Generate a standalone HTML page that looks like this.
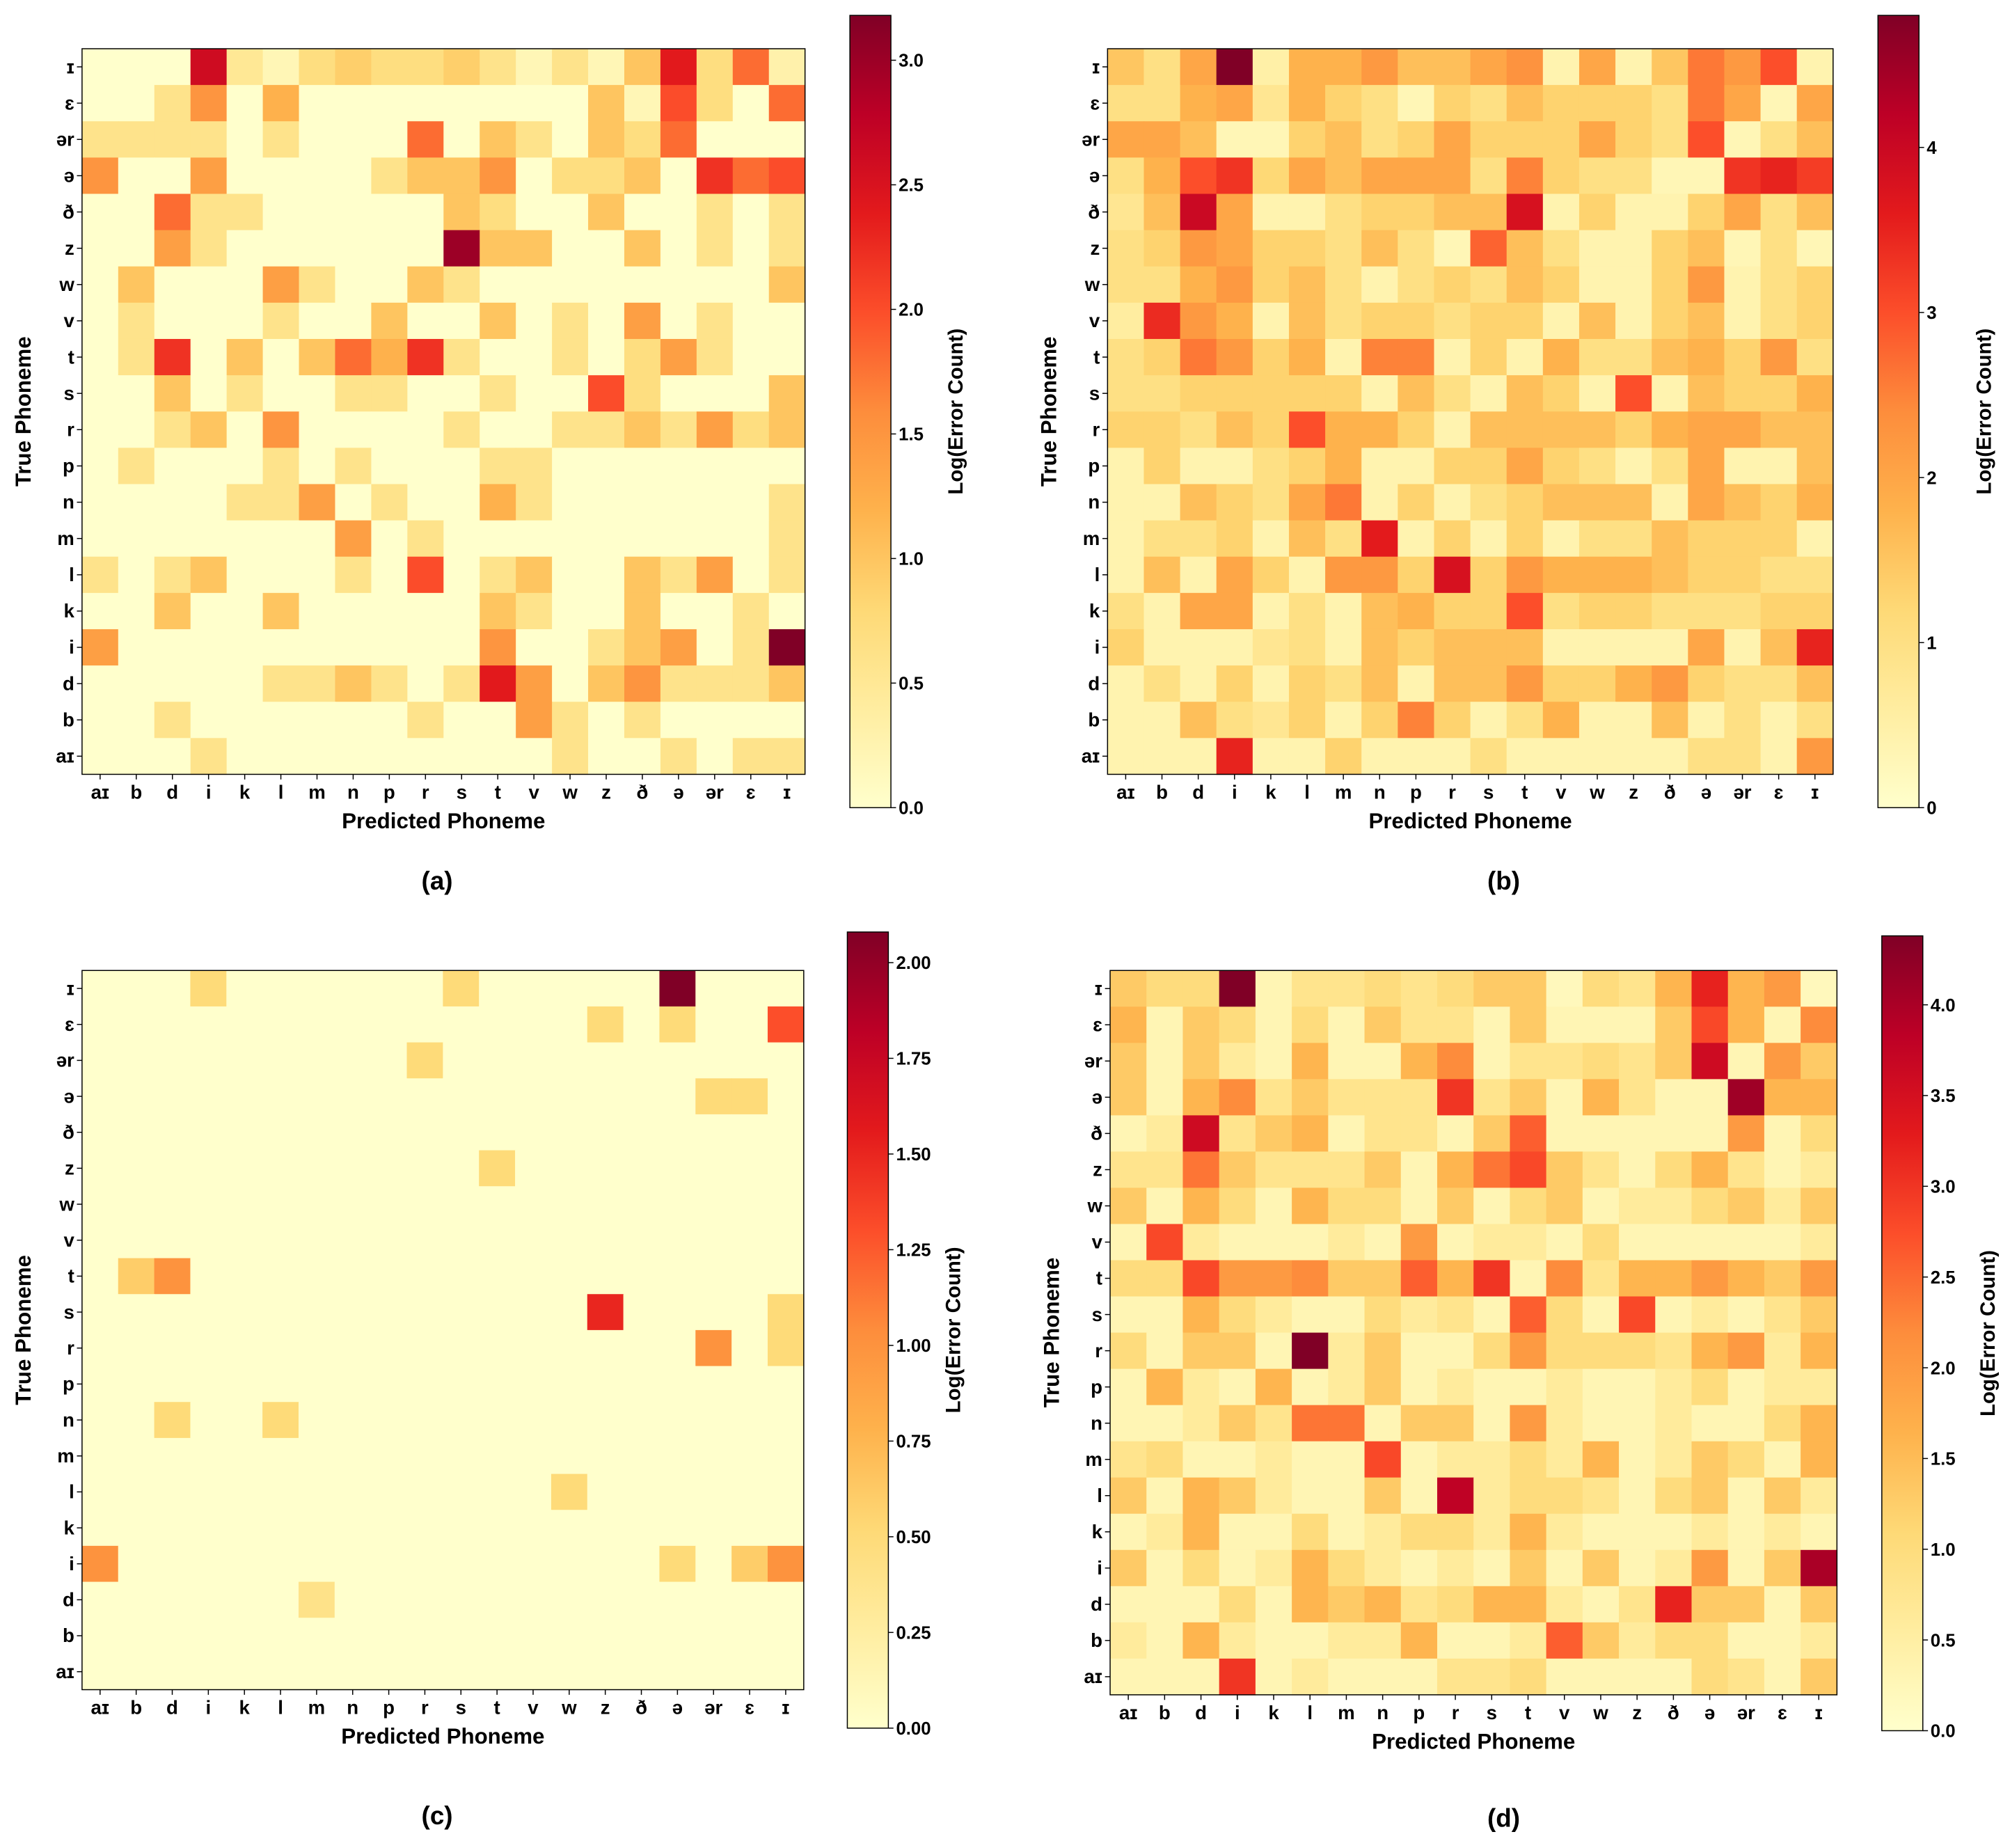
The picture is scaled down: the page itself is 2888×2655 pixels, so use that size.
<!DOCTYPE html>
<html><head><meta charset="utf-8"><style>
html,body{margin:0;padding:0;background:#fff}
svg{display:block;font-family:"Liberation Sans","DejaVu Sans",sans-serif;font-weight:bold}
</style></head><body>
<svg id="fig" width="2888" height="2655" viewBox="0 0 1568 1441.5" xmlns="http://www.w3.org/2000/svg">
<defs><linearGradient id="ylorrd" x1="0" y1="1" x2="0" y2="0">
<stop offset="0" stop-color="#ffffcc"/><stop offset="0.125" stop-color="#ffeda0"/><stop offset="0.25" stop-color="#fed976"/><stop offset="0.375" stop-color="#feb24c"/><stop offset="0.5" stop-color="#fd8d3c"/><stop offset="0.625" stop-color="#fc4e2a"/><stop offset="0.75" stop-color="#e31a1c"/><stop offset="0.875" stop-color="#bd0026"/><stop offset="1" stop-color="#800026"/></linearGradient></defs>
</svg>
<script>
const categories = ["aɪ","b","d","i","k","l","m","n","p","r","s","t","v","w","z","ð","ə","ər","ɛ","ɪ"];
const rowLabels = ["ɪ","ɛ","ər","ə","ð","z","w","v","t","s","r","p","n","m","l","k","i","d","b","aɪ"];
const valuesA = [
[0,0,0,2.6,0.5,0.2,0.7,0.9,0.7,0.7,0.9,0.6,0.2,0.6,0.2,1.0,2.4,0.7,1.8,0.3],
[0,0,0.6,1.5,0,1.2,0,0,0,0,0,0,0,0,1.0,0.2,2.0,0.7,0,1.8],
[0.6,0.6,0.6,0.6,0,0.6,0,0,0,1.8,0,1.0,0.6,0,1.0,0.7,1.8,0,0,0],
[1.5,0,0,1.4,0,0,0,0,0.6,1.0,1.0,1.5,0,0.7,0.7,1.0,0,2.2,1.8,2.0],
[0,0,1.8,0.6,0.6,0,0,0,0,0,1.0,0.7,0,0,1.0,0,0,0.6,0,0.6],
[0,0,1.4,0.6,0,0,0,0,0,0,3.0,1.0,1.0,0,0,1.0,0,0.6,0,0.6],
[0,1.0,0,0,0,1.4,0.6,0,0,1.0,0.6,0,0,0,0,0,0,0,0,1.0],
[0,0.6,0,0,0,0.6,0,0,1.0,0,0,1.0,0,0.6,0,1.4,0,0.6,0,0],
[0,0.6,2.2,0,1.0,0,1.0,1.8,1.2,2.2,0.6,0,0,0.6,0,0.7,1.4,0.6,0,0],
[0,0,1.0,0,0.6,0,0,0.6,0.6,0,0,0.6,0,0,2.0,0.7,0,0,0,1.0],
[0,0,0.6,1.0,0,1.5,0,0,0,0,0.6,0,0,0.6,0.6,1.0,0.6,1.4,0.7,1.0],
[0,0.6,0,0,0,0.6,0,0.6,0,0,0,0.6,0.6,0,0,0,0,0,0,0],
[0,0,0,0,0.6,0.6,1.4,0,0.6,0,0,1.2,0.6,0,0,0,0,0,0,0.6],
[0,0,0,0,0,0,0,1.4,0,0.6,0,0,0,0,0,0,0,0,0,0.6],
[0.6,0,0.6,1.0,0,0,0,0.6,0,2.0,0,0.6,1.0,0,0,1.0,0.6,1.4,0,0.6],
[0,0,1.0,0,0,1.0,0,0,0,0,0,1.0,0.6,0,0,1.0,0,0,0.6,0],
[1.4,0,0,0,0,0,0,0,0,0,0,1.5,0,0,0.6,1.0,1.4,0,0.6,3.2],
[0,0,0,0,0,0.6,0.6,1.0,0.6,0,0.6,2.4,1.4,0,1.0,1.5,0.6,0.6,0.6,1.0],
[0,0,0.6,0,0,0,0,0,0,0.6,0,0,1.4,0.6,0,0.6,0,0,0,0],
[0,0,0,0.6,0,0,0,0,0,0,0,0,0,0.6,0,0,0.6,0,0.6,0.6]];
const valuesB = [
[1.5,1.0,2.0,4.8,0.5,1.8,1.8,2.2,1.6,1.6,2.0,2.3,0.4,2.0,0.4,1.5,2.6,2.2,3.0,0.4],
[1.0,1.0,1.8,2.0,0.8,1.8,1.3,1.0,0.3,1.3,1.0,1.6,1.3,1.3,1.3,1.0,2.6,2.0,0.3,2.0],
[2.0,2.0,1.6,0.3,0.3,1.3,1.6,1.0,1.3,2.0,1.3,1.3,1.3,2.0,1.3,1.0,3.0,0.3,1.0,1.6],
[1.0,1.8,3.0,3.3,1.2,2.0,1.6,2.0,2.0,2.0,1.0,2.5,1.3,1.0,1.0,0.3,0.3,3.3,3.5,3.2],
[0.8,1.6,4.0,2.0,0.4,0.4,1.0,1.3,1.3,1.6,1.6,3.8,0.4,1.3,0.4,0.4,1.3,2.0,1.0,1.6],
[1.0,1.3,2.2,2.0,1.3,1.3,1.0,1.6,1.0,0.3,2.8,1.6,1.0,0.4,0.4,1.3,1.6,0.3,1.0,0.3],
[1.0,1.0,1.8,2.2,1.3,1.6,1.0,0.4,1.0,1.3,1.0,1.6,1.3,0.4,0.4,1.3,2.2,0.4,1.0,1.3],
[0.6,3.4,2.2,1.8,0.4,1.6,1.0,1.3,1.3,1.0,1.3,1.3,0.4,1.6,0.4,1.3,1.6,0.4,1.0,1.3],
[1.0,1.3,2.6,2.2,1.3,1.8,0.4,2.5,2.5,0.4,1.3,0.4,1.8,1.0,1.0,1.6,1.8,1.3,2.2,1.0],
[1.0,1.0,1.3,1.3,1.3,1.3,1.3,0.4,1.6,1.0,0.4,1.6,1.3,0.4,3.0,0.4,1.6,1.3,1.3,1.8],
[1.3,1.3,1.0,1.6,1.3,3.0,1.8,1.8,1.3,0.4,1.6,1.6,1.6,1.6,1.3,1.8,2.0,2.0,1.6,1.6],
[0.4,1.3,0.4,0.4,1.0,1.3,1.8,0.4,0.4,1.3,1.3,2.0,1.3,1.0,0.4,1.0,2.0,0.4,0.4,1.6],
[0.4,0.4,1.6,1.3,1.0,2.0,2.6,0.4,1.3,0.4,1.0,1.3,1.6,1.6,1.6,0.4,2.0,1.6,1.3,1.8],
[0.4,1.0,1.0,1.3,0.4,1.6,1.0,3.6,0.4,1.3,0.4,1.3,0.4,1.0,1.0,1.6,1.3,1.3,1.3,0.4],
[0.4,1.6,0.4,2.0,1.3,0.4,2.2,2.2,1.3,3.8,1.3,2.2,1.8,1.8,1.8,1.6,1.3,1.3,1.0,1.0],
[1.0,0.4,2.0,2.0,0.4,1.0,0.4,1.6,1.8,1.3,1.3,3.0,1.0,1.3,1.3,1.0,1.0,1.0,1.3,1.3],
[1.3,0.4,0.4,0.4,0.8,1.0,0.4,1.6,1.3,1.6,1.6,1.6,0.4,0.4,0.4,0.4,2.0,0.4,1.6,3.5],
[0.4,1.0,0.4,1.3,0.4,1.3,1.0,1.6,0.4,1.6,1.6,2.2,1.3,1.3,1.8,2.2,1.3,1.0,1.0,1.6],
[0.4,0.4,1.6,1.0,0.8,1.3,0.4,1.3,2.5,1.3,0.4,1.0,1.8,0.4,0.4,1.6,0.4,1.0,0.4,1.0],
[0.4,0.4,0.4,3.5,0.4,0.4,1.3,0.4,0.4,0.4,1.0,0.4,0.4,0.4,0.4,0.4,1.0,1.0,0.4,2.2]];
const valuesC = [
[0,0,0,0.5,0,0,0,0,0,0,0.5,0,0,0,0,0,2.08,0,0,0],
[0,0,0,0,0,0,0,0,0,0,0,0,0,0,0.5,0,0.5,0,0,1.3],
[0,0,0,0,0,0,0,0,0,0.5,0,0,0,0,0,0,0,0,0,0],
[0,0,0,0,0,0,0,0,0,0,0,0,0,0,0,0,0,0.5,0.5,0],
[0,0,0,0,0,0,0,0,0,0,0,0,0,0,0,0,0,0,0,0],
[0,0,0,0,0,0,0,0,0,0,0,0.5,0,0,0,0,0,0,0,0],
[0,0,0,0,0,0,0,0,0,0,0,0,0,0,0,0,0,0,0,0],
[0,0,0,0,0,0,0,0,0,0,0,0,0,0,0,0,0,0,0,0],
[0,0.6,1.0,0,0,0,0,0,0,0,0,0,0,0,0,0,0,0,0,0],
[0,0,0,0,0,0,0,0,0,0,0,0,0,0,1.5,0,0,0,0,0.5],
[0,0,0,0,0,0,0,0,0,0,0,0,0,0,0,0,0,1.0,0,0.5],
[0,0,0,0,0,0,0,0,0,0,0,0,0,0,0,0,0,0,0,0],
[0,0,0.5,0,0,0.5,0,0,0,0,0,0,0,0,0,0,0,0,0,0],
[0,0,0,0,0,0,0,0,0,0,0,0,0,0,0,0,0,0,0,0],
[0,0,0,0,0,0,0,0,0,0,0,0,0,0.5,0,0,0,0,0,0],
[0,0,0,0,0,0,0,0,0,0,0,0,0,0,0,0,0,0,0,0],
[1.0,0,0,0,0,0,0,0,0,0,0,0,0,0,0,0,0.5,0,0.6,1.0],
[0,0,0,0,0,0,0.4,0,0,0,0,0,0,0,0,0,0,0,0,0],
[0,0,0,0,0,0,0,0,0,0,0,0,0,0,0,0,0,0,0,0],
[0,0,0,0,0,0,0,0,0,0,0,0,0,0,0,0,0,0,0,0]];
const valuesD = [
[1.3,1.0,1.0,4.38,0.3,0.8,0.8,1.0,0.8,1.0,1.3,1.3,0.2,1.0,0.8,1.6,3.2,1.6,2.0,0.2],
[1.6,0.3,1.3,1.0,0.3,1.0,0.3,1.3,0.8,0.8,0.3,1.3,0.3,0.3,0.3,1.3,2.8,1.6,0.3,2.2],
[1.3,0.3,1.3,0.6,0.3,1.6,0.3,0.3,1.6,2.2,0.3,0.8,0.8,1.0,0.8,1.3,3.6,0.3,2.0,1.3],
[1.3,0.3,1.6,2.2,0.8,1.3,0.8,0.8,0.8,3.0,0.8,1.3,0.3,1.6,0.8,0.3,0.3,4.1,1.6,1.6],
[0.3,0.6,3.6,0.8,1.3,1.6,0.3,0.8,0.8,0.3,1.3,2.6,0.3,0.3,0.3,0.3,0.3,2.0,0.3,1.0],
[0.8,0.8,2.4,1.3,0.8,0.8,0.8,1.3,0.3,1.6,2.4,2.8,1.3,0.8,0.3,1.0,1.6,0.8,0.3,0.6],
[1.3,0.3,1.6,1.0,0.3,1.6,1.0,1.0,0.3,1.3,0.3,1.0,1.3,0.3,0.6,0.6,1.0,1.3,0.6,1.3],
[0.3,2.8,0.6,0.3,0.3,0.3,0.6,0.3,2.0,0.3,0.6,0.6,0.3,1.0,0.3,0.3,0.3,0.3,0.3,0.6],
[1.0,1.0,2.8,2.0,2.0,2.2,1.3,1.3,2.6,1.6,3.0,0.3,2.2,0.8,1.6,1.6,2.0,1.6,1.3,2.0],
[0.3,0.3,1.6,1.0,0.6,0.3,0.3,1.0,0.6,0.8,0.3,2.6,1.0,0.3,2.8,0.3,0.6,0.3,0.8,1.3],
[1.0,0.3,1.3,1.3,0.3,4.38,0.6,1.3,0.3,0.3,1.0,2.0,1.0,1.0,1.0,0.8,1.6,2.0,0.6,1.6],
[0.3,1.6,0.6,0.3,1.6,0.3,0.6,1.3,0.3,0.6,0.3,0.3,0.6,0.3,0.3,0.6,1.0,0.3,0.6,0.6],
[0.3,0.3,0.6,1.3,0.8,2.4,2.4,0.3,1.3,1.3,0.3,2.0,0.6,0.3,0.3,0.6,0.3,0.3,1.0,1.6],
[0.8,1.0,0.3,0.3,0.6,0.3,0.3,2.8,0.3,0.6,0.6,1.0,0.6,1.6,0.3,0.6,1.3,1.0,0.3,1.6],
[1.3,0.3,1.6,1.3,0.6,0.3,0.3,1.3,0.3,3.8,0.6,1.0,1.0,0.8,0.3,1.0,1.3,0.3,1.3,0.6],
[0.3,0.6,1.6,0.3,0.3,1.0,0.3,0.6,1.0,1.0,0.6,1.6,0.6,0.3,0.3,0.3,0.6,0.3,0.6,0.3],
[1.3,0.3,1.0,0.3,0.6,1.6,1.0,0.6,0.3,0.6,0.3,1.3,0.3,1.3,0.3,0.6,2.0,0.3,1.3,4.0],
[0.3,0.3,0.3,1.0,0.3,1.6,1.3,1.6,0.8,1.0,1.6,1.6,0.6,0.3,0.8,3.2,1.3,1.3,0.3,1.3],
[0.6,0.3,1.6,0.6,0.3,0.3,0.6,0.6,1.6,0.3,0.3,0.6,2.6,1.3,0.6,1.0,1.0,0.3,0.3,0.6],
[0.3,0.3,0.3,3.0,0.3,0.6,0.3,0.3,0.3,0.8,0.8,1.0,0.3,0.3,0.3,0.3,1.0,0.8,0.3,1.3]];
const ticksA = [0,0.5,1.0,1.5,2.0,2.5,3.0];
const ticksB = [0,1,2,3,4];
const ticksC = [0,0.25,0.5,0.75,1.0,1.25,1.5,1.75,2.0];
const ticksD = [0,0.5,1.0,1.5,2.0,2.5,3.0,3.5,4.0];

const stops=["#ffffcc","#ffeda0","#fed976","#feb24c","#fd8d3c","#fc4e2a","#e31a1c","#bd0026","#800026"];
function hex(h){return [1,3,5].map(i=>parseInt(h.substr(i,2),16));}
function cmap(t){t=Math.max(0,Math.min(1,t));const p=t*8,i=Math.min(7,Math.floor(p)),f=p-i;const a=hex(stops[i]),b=hex(stops[i+1]);return "rgb("+a.map((v,k)=>Math.round(v+(b[k]-v)*f)).join(",")+")";}
const svg=document.getElementById('fig');const NS="http://www.w3.org/2000/svg";
function mk(tag,attrs,parent){const e=document.createElementNS(NS,tag);for(const k in attrs)e.setAttribute(k,attrs[k]);(parent||svg).appendChild(e);return e;}
function txt(s,attrs,parent){const e=mk('text',attrs,parent);e.textContent=s;return e;}

const panels=[
 {id:'a',vals:valuesA,x0:64,x1:628,y0:38,y1:604,cx:663,cy0:12,cy1:630,vmax:3.18,ticks:ticksA,dec:1,lab:[341,694]},
 {id:'b',vals:valuesB,x0:864,x1:1430,y0:38,y1:604,cx:1465,cy0:12,cy1:630,vmax:4.8,ticks:ticksB,dec:0,lab:[1173,694]},
 {id:'c',vals:valuesC,x0:64,x1:627,y0:757,y1:1318,cx:661,cy0:727,cy1:1348,vmax:2.08,ticks:ticksC,dec:2,lab:[341,1423]},
 {id:'d',vals:valuesD,x0:866,x1:1433,y0:757,y1:1322,cx:1468,cy0:730,cy1:1350,vmax:4.38,ticks:ticksD,dec:1,lab:[1173,1425]}];

panels.forEach(P=>{
 const g=mk('g',{});
 
 
 const n=categories.length,cw=(P.x1-P.x0)/n,ch=(P.y1-P.y0)/rowLabels.length;
 const xs=j=>P.x0+j*cw, ys=i=>P.y0+i*ch;
 P.vals.forEach((row,i)=>row.forEach((v,j)=>{
  const r=mk('rect',{x:xs(j),y:ys(i),width:cw+0.4,height:ch+0.4,fill:cmap(v/P.vmax)},g);
  
  
 }));
 mk('rect',{x:P.x0,y:P.y0,width:P.x1-P.x0,height:P.y1-P.y0,fill:'none',stroke:'#000','stroke-width':0.8},g);
 categories.forEach((c,j)=>{
  mk('line',{x1:xs(j+0.5),x2:xs(j+0.5),y1:P.y1,y2:P.y1+4,stroke:'#000','stroke-width':0.8},g);
  const t=txt(c,{x:xs(j+0.5),y:P.y1+19,'font-size':15,'text-anchor':'middle'},g);
  
  
 });
 rowLabels.forEach((c,i)=>{
  mk('line',{x1:P.x0-4,x2:P.x0,y1:ys(i+0.5),y2:ys(i+0.5),stroke:'#000','stroke-width':0.8},g);
  const t=txt(c,{x:P.x0-6,y:ys(i+0.5)+5,'font-size':15,'text-anchor':'end'},g);
  
  
 });
 const xt=txt('Predicted Phoneme',{x:(P.x0+P.x1)/2,y:P.y1+42,'font-size':17,'text-anchor':'middle'},g);
 
 
 const ym=(P.y0+P.y1)/2,yx=P.x0-40;
 const yt=txt('True Phoneme',{x:yx,y:ym,'font-size':17,'text-anchor':'middle',transform:'rotate(-90 '+yx+' '+ym+')'},g);
 
 
 const cb=mk('rect',{x:P.cx,y:P.cy0,width:32,height:P.cy1-P.cy0,fill:'url(#ylorrd)',stroke:'#000','stroke-width':0.8},g);
 
 
 const cs=v=>P.cy1-(v/P.vmax)*(P.cy1-P.cy0);
 P.ticks.forEach(v=>{
  mk('line',{x1:P.cx+32,x2:P.cx+36,y1:cs(v),y2:cs(v),stroke:'#000','stroke-width':0.8},g);
  const t=txt(v.toFixed(P.dec),{x:P.cx+38,y:cs(v)+5,'font-size':14},g);
  
  
 });
 const lx=P.cx+88,ly=(P.cy0+P.cy1)/2;
 const cl=txt('Log(Error Count)',{x:lx,y:ly,'font-size':16,'text-anchor':'middle',transform:'rotate(-90 '+lx+' '+ly+')'},g);
 
 
 const sl=txt('('+P.id+')',{x:P.lab[0],y:P.lab[1],'font-size':20,'text-anchor':'middle'},g);
 
 
});
</script>
</body></html>
